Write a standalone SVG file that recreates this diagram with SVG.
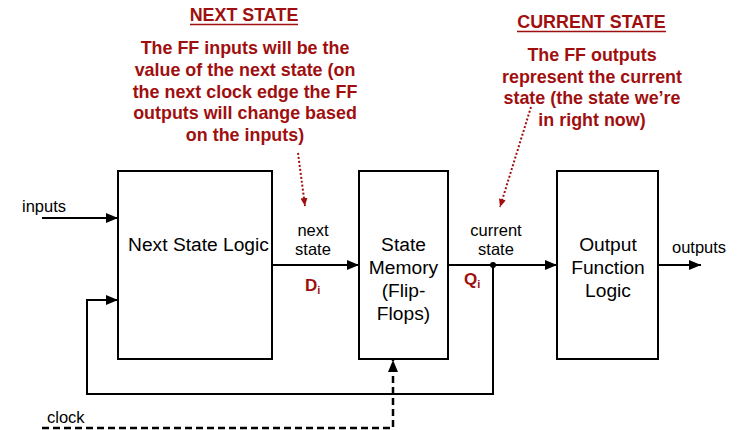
<svg xmlns="http://www.w3.org/2000/svg" width="739" height="430" viewBox="0 0 739 430">
<defs>
<style>
.box{fill:#fff;stroke:#000;stroke-width:2}
.w{fill:none;stroke:#000;stroke-width:2}
.clk{fill:none;stroke:#000;stroke-width:2.5;stroke-dasharray:7,4}
.dot{fill:none;stroke:#a00f0f;stroke-width:2;stroke-dasharray:2,2}
.bt{font-family:"Liberation Sans",Arial,sans-serif;font-size:19.2px;fill:#000;text-anchor:middle}
.lb{font-family:"Liberation Sans",Arial,sans-serif;font-size:16.5px;fill:#000}
.rt{font-family:"Liberation Sans",Arial,sans-serif;font-size:17.9px;font-weight:bold;fill:#a00f0f;text-anchor:middle}
.rs{font-family:"Liberation Sans",Arial,sans-serif;font-size:17px;font-weight:bold;fill:#a00f0f}
</style>
<marker id="ah" markerUnits="userSpaceOnUse" markerWidth="13" markerHeight="11" refX="12" refY="5" orient="auto">
<path d="M0,0 L12,5 L0,10 z" fill="#000"/>
</marker>
<marker id="rh" markerUnits="userSpaceOnUse" markerWidth="9" markerHeight="8" refX="8" refY="3.5" orient="auto">
<path d="M0,0 L8,3.5 L0,7 z" fill="#a00f0f"/>
</marker>
</defs>

<g id="annotation-next">
<text class="rt" x="244" y="21">NEXT STATE</text>
<line x1="190" y1="24.5" x2="298" y2="24.5" stroke="#a00f0f" stroke-width="1.5"/>
<text class="rt" x="245" y="54">The FF inputs will be the</text>
<text class="rt" x="245" y="76">value of the next state (on</text>
<text class="rt" x="245" y="97.5">the next clock edge the FF</text>
<text class="rt" x="245" y="119">outputs will change based</text>
<text class="rt" x="245" y="141">on the inputs)</text>
</g>

<g id="annotation-current">
<text class="rt" x="591.5" y="28">CURRENT STATE</text>
<line x1="517" y1="31.5" x2="666" y2="31.5" stroke="#a00f0f" stroke-width="1.5"/>
<text class="rt" x="592" y="61">The FF outputs</text>
<text class="rt" x="592" y="83">represent the current</text>
<text class="rt" x="592" y="104">state (the state we’re</text>
<text class="rt" x="592" y="126">in right now)</text>
</g>

<g id="next-state-logic">
<rect class="box" x="118" y="171" width="154" height="188"/>
<text class="bt" x="198.5" y="251">Next State Logic</text>
</g>

<g id="state-memory">
<rect class="box" x="359" y="171" width="89" height="188"/>
<text class="bt" x="403.5" y="251">State</text>
<text class="bt" x="403.5" y="274">Memory</text>
<text class="bt" x="403.5" y="297">(Flip-</text>
<text class="bt" x="403.5" y="320">Flops)</text>
</g>

<g id="output-function-logic">
<rect class="box" x="557" y="171" width="101" height="188"/>
<text class="bt" x="608" y="251">Output</text>
<text class="bt" x="608" y="274">Function</text>
<text class="bt" x="608" y="297">Logic</text>
</g>

<g id="connectors">
<line class="w" x1="42" y1="218" x2="118" y2="218" marker-end="url(#ah)"/>
<line class="w" x1="272" y1="265" x2="359" y2="265" marker-end="url(#ah)"/>
<line class="w" x1="448" y1="265" x2="557" y2="265" marker-end="url(#ah)"/>
<line class="w" x1="658" y1="265" x2="701" y2="265" marker-end="url(#ah)"/>
<polyline class="w" points="493,265 493,394 87,394 87,300 118,300" marker-end="url(#ah)"/>
<circle cx="493" cy="265" r="3" fill="#000"/>
<polyline class="clk" points="42,428 393,428 393,360" marker-end="url(#ah)"/>
<line class="dot" x1="298" y1="153" x2="305" y2="206" marker-end="url(#rh)"/>
<line class="dot" x1="531" y1="107" x2="500" y2="207" marker-end="url(#rh)"/>
</g>

<g id="labels">
<text class="lb" x="22" y="212">inputs</text>
<text class="lb" x="313" y="236" text-anchor="middle">next</text>
<text class="lb" x="313" y="255" text-anchor="middle">state</text>
<text class="lb" x="496" y="236" text-anchor="middle">current</text>
<text class="lb" x="496" y="255" text-anchor="middle">state</text>
<text class="lb" x="672" y="253">outputs</text>
<text class="lb" x="47" y="423">clock</text>
<text class="rs" x="305" y="291">D<tspan font-size="11" dy="3">i</tspan></text>
<text class="rs" x="464" y="285">Q<tspan font-size="11" dy="3">i</tspan></text>
</g>
</svg>
